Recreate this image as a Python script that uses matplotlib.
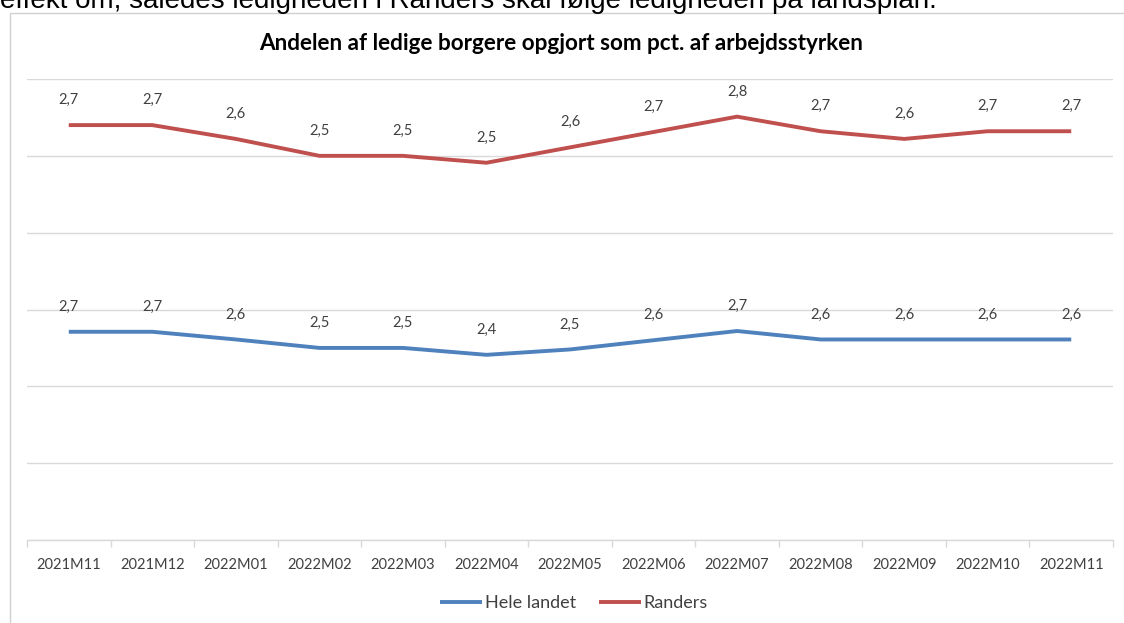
import matplotlib
matplotlib.use("Agg")
import matplotlib.pyplot as plt
from matplotlib.patches import Rectangle
import numpy as np

categories = ["2021M11", "2021M12", "2022M01", "2022M02", "2022M03", "2022M04",
              "2022M05", "2022M06", "2022M07", "2022M08", "2022M09", "2022M10", "2022M11"]
hele_landet = [2.71, 2.71, 2.61, 2.50, 2.50, 2.41, 2.48, 2.60, 2.72, 2.61, 2.61, 2.61, 2.61]
randers = [2.69, 2.69, 2.61, 2.50, 2.50, 2.50, 2.63, 2.71, 2.79, 2.71, 2.61, 2.71, 2.71]
series_names = ["Hele landet", "Randers"]
title = "Andelen af ledige borgere opgjort som pct. af arbejdsstyrken"
top_text = "effekt om, således ledigheden i Randers skal følge ledigheden på landsplan."

FONT = "Lato"
BLUE = "#4F81BD"
RED = "#C0504D"
GRID = "#D9D9D9"
TXT = "#404040"

fig = plt.figure(figsize=(11.24, 6.23), dpi=100)
W, H = 1124, 623

def fx(px):
    return px / W

def fy(py):
    return 1 - py / H

# cropped paragraph text at top
fig.text(fx(0), fy(7.5), top_text, family="Liberation Sans", fontsize=20,
         color="#000000", va="baseline", ha="left")

# chart border
fig.patches.append(Rectangle((fx(9.5), fy(700)), fx(1200), fy(12.5) - fy(700),
                             transform=fig.transFigure, fill=False,
                             edgecolor="#D0D0D0", linewidth=1.0))

ax = fig.add_axes([fx(27), fy(540), fx(1113) - fx(27), fy(79) - fy(540)])
x = np.arange(len(categories))
hele = np.array(hele_landet)
rand = np.array(randers)
stacked = hele + rand

l1, = ax.plot(x, hele, color=BLUE, lw=2.8, solid_capstyle="butt", zorder=3)
l2, = ax.plot(x, stacked, color=RED, lw=2.8, solid_capstyle="butt", zorder=3)

for xi, yv, lab in zip(x, hele, hele_landet):
    ax.annotate(f"{lab:.1f}".replace(".", ","), (xi, yv), xytext=(0, 13),
                textcoords="offset points", ha="center", va="bottom",
                family=FONT, fontsize=10.5, color=TXT)
for xi, yv, lab in zip(x, stacked, randers):
    ax.annotate(f"{lab:.1f}".replace(".", ","), (xi, yv), xytext=(0, 13),
                textcoords="offset points", ha="center", va="bottom",
                family=FONT, fontsize=10.5, color=TXT)

ax.set_xlim(-0.5, len(categories) - 0.5)
ax.set_ylim(0, 6)
ax.set_yticks(np.arange(0, 7, 1))
ax.yaxis.grid(True, color=GRID, linewidth=1.0)
ax.set_axisbelow(True)
ax.tick_params(axis="y", left=False, labelleft=False)

ax.set_xticks(x)
ax.set_xticklabels(categories, family=FONT, fontsize=10.5, color=TXT)
ax.tick_params(axis="x", length=0, pad=13)
ax.set_xticks(np.arange(-0.5, len(categories), 1), minor=True)
ax.tick_params(axis="x", which="minor", length=5, color=GRID, width=1.0, direction="out")

for s in ["left", "right", "top"]:
    ax.spines[s].set_visible(False)
ax.spines["bottom"].set_color(GRID)
ax.spines["bottom"].set_linewidth(1.0)
ax.patch.set_alpha(0)

fig.text(fx(561), fy(44), title, family=FONT, fontweight="bold", fontsize=16.2,
         color="#000000", ha="center", va="center")

fig.legend([l1, l2], series_names, loc="center", bbox_to_anchor=(fx(574), fy(603)),
           ncol=2, frameon=False, handlelength=2.3, handletextpad=0.15,
           columnspacing=1.3, prop={"family": FONT, "size": 13},
           labelcolor=TXT)

fig.savefig("out.png", dpi=100)
